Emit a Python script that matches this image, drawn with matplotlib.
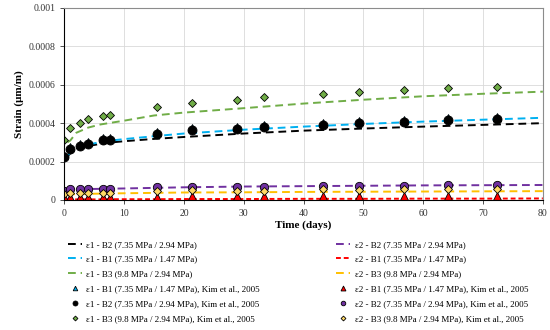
import numpy as np
import matplotlib.pyplot as plt

plt.rcParams['font.family'] = ['Liberation Serif', 'DejaVu Serif']

# model curves
t_line = [0.5, 1, 2, 4, 6, 8, 10, 15, 20, 30, 40, 50, 60, 70, 80]
e1_b2 = [0.000225, 0.000243, 0.000262, 0.000281, 0.000292, 0.0003, 0.000306, 0.000318,
         0.000328, 0.000346, 0.000361, 0.000372, 0.000382, 0.000391, 0.0004]
e1_b1 = [0.000228, 0.000248, 0.000268, 0.000289, 0.000301, 0.00031, 0.000317, 0.000332,
         0.000346, 0.000366, 0.000382, 0.000396, 0.000408, 0.000418, 0.000428]
e1_b3 = [0.00030, 0.00031, 0.00035, 0.000377, 0.000393, 0.000403, 0.000413, 0.00044,
         0.000455, 0.000478, 0.000502, 0.000522, 0.00054, 0.000553, 0.000564]
e2_b2 = [0.000045, 0.000052, 0.000055, 0.000057, 0.000058, 0.000059, 0.00006, 0.000063,
         0.000066, 0.00007, 0.000072, 0.000074, 0.000076, 0.000077, 0.000078]
e2_b1 = [0.000002, 0.000002, 0.000003, 0.000003, 0.000003, 0.000004, 0.000004, 0.000004,
         0.000005, 0.000005, 0.000006, 0.000006, 0.000007, 0.000007, 0.000008]
e2_b3 = [0.000025, 0.000029, 0.000031, 0.000032, 0.000033, 0.000034, 0.000035, 0.000037,
         0.000039, 0.00004, 0.000042, 0.000043, 0.000044, 0.000045, 0.000046]

# measured data, Kim et al. 2005
t_kim = [0, 1, 2.6, 4, 6.4, 7.6, 15.5, 21.4, 28.8, 33.3, 43.3, 49.3, 56.8, 64.2, 72.3]
k1_b2 = [0.000222, 0.000265, 0.000281, 0.000291, 0.000311, 0.000314, 0.000344, 0.000363,
         0.000372, 0.000379, 0.000389, 0.000401, 0.000408, 0.000415, 0.000421]
k1_b1 = [0.000232, 0.000275, 0.000291, 0.000301, 0.000321, 0.000324, 0.000354, 0.000373,
         0.000382, 0.000389, 0.000399, 0.000411, 0.000418, 0.000425, 0.000431]
k1_b3 = [0.000311, 0.000373, 0.0004, 0.000422, 0.000438, 0.000443, 0.000485, 0.000504,
         0.000522, 0.000534, 0.00055, 0.000564, 0.000574, 0.000583, 0.00059]
k2_b2 = [0.000045, 0.000055, 0.000056, 0.000056, 0.000055, 0.000056, 0.000065, 0.00007,
         0.000066, 0.000068, 0.000075, 0.000072, 0.000075, 0.000076, 0.000076]
k2_b1 = [0.000008, 0.000012, 0.000012, 0.000012, 0.00001, 0.000011, 0.00001, 0.000015,
         0.000015, 0.000015, 0.000015, 0.000015, 0.000015, 0.000015, 0.000015]
k2_b3 = [0.00003, 0.000038, 0.000038, 0.000038, 0.000036, 0.000038, 0.000045, 0.00005,
         0.000047, 0.000048, 0.000055, 0.000052, 0.000055, 0.000055, 0.000055]

y_ticks = [0, 0.0002, 0.0004, 0.0006, 0.0008, 0.001]
y_labels = ['0', '0.0002', '0.0004', '0.0006', '0.0008', '0.001']

fig = plt.figure(figsize=(5.5, 3.3), dpi=100)
ax = fig.add_axes([0.117, 0.394, 0.87, 0.582])

lw = 1.4
d = (4, 2.5)
h = {}
h['l1b2'], = ax.plot(t_line, e1_b2, color='black', lw=lw, dashes=d)
h['l1b1'], = ax.plot(t_line, e1_b1, color='#00B0F0', lw=lw, dashes=d)
h['l1b3'], = ax.plot(t_line, e1_b3, color='#70AD47', lw=lw, dashes=d)
h['l2b2'], = ax.plot(t_line, e2_b2, color='#7030A0', lw=lw, dashes=d)
h['l2b1'], = ax.plot(t_line, e2_b1, color='#FF0000', lw=lw, dashes=(2.5, 1.5))
h['l2b3'], = ax.plot(t_line, e2_b3, color='#FFC000', lw=lw, dashes=d)

mk = dict(ls='none', mec='black', mew=0.6)
h['k1b1'], = ax.plot(t_kim, k1_b1, marker='^', ms=6, mfc='#00B0F0', **mk)
h['k1b2'], = ax.plot(t_kim, k1_b2, marker='o', ms=6.5, mfc='black', **mk)
h['k1b3'], = ax.plot(t_kim, k1_b3, marker='D', ms=4.5, mfc='#70AD47', **mk)
h['k2b1'], = ax.plot(t_kim, k2_b1, marker='^', ms=6.5, mfc='#FF0000', **mk)
h['k2b2'], = ax.plot(t_kim, k2_b2, marker='o', ms=6, mfc='#7030A0', **mk)
h['k2b3'], = ax.plot(t_kim, k2_b3, marker='D', ms=4.5, mfc='#FFD966', **mk)

ax.set_xlim(0, 80)
ax.set_ylim(0, 0.001)
ax.set_xticks(range(0, 81, 10))
ax.set_yticks(y_ticks)
ax.set_yticklabels(y_labels)
ax.tick_params(labelsize=7, length=3, width=0.6, colors='#333333')
ax.grid(color='#D9D9D9', lw=0.6)
ax.set_axisbelow(True)
for s in ['top', 'right']:
    ax.spines[s].set_color('#8C8C8C')
for s in ['left', 'bottom']:
    ax.spines[s].set_color('black')
    ax.spines[s].set_linewidth(0.8)

ax.set_xlabel('Time (days)', fontsize=8, fontweight='bold', labelpad=2)
ax.set_ylabel('Strain (μm/m)', fontsize=8, fontweight='bold', labelpad=3)

order = ['l1b2', 'l1b1', 'l1b3', 'k1b1', 'k1b2', 'k1b3',
         'l2b2', 'l2b1', 'l2b3', 'k2b1', 'k2b2', 'k2b3']
labels = ['ε1 - B2 (7.35 MPa / 2.94 MPa)',
          'ε1 - B1 (7.35 MPa / 1.47 MPa)',
          'ε1 - B3 (9.8 MPa / 2.94 MPa)',
          'ε1 - B1 (7.35 MPa / 1.47 MPa), Kim et al., 2005',
          'ε1 - B2 (7.35 MPa / 2.94 MPa), Kim et al., 2005',
          'ε1 - B3 (9.8 MPa / 2.94 MPa), Kim et al., 2005',
          'ε2 - B2 (7.35 MPa / 2.94 MPa)',
          'ε2 - B1 (7.35 MPa / 1.47 MPa)',
          'ε2 - B3 (9.8 MPa / 2.94 MPa)',
          'ε2 - B1 (7.35 MPa / 1.47 MPa), Kim et al., 2005',
          'ε2 - B2 (7.35 MPa / 2.94 MPa), Kim et al., 2005',
          'ε2 - B3 (9.8 MPa / 2.94 MPa), Kim et al., 2005']
fig.legend([h[k] for k in order], labels, ncol=2, loc='upper left',
           bbox_to_anchor=(0.108, 0.296), frameon=False, fontsize=6.5,
           handlelength=1.6, handletextpad=0.5, columnspacing=8.4,
           labelspacing=0.72, markerscale=0.55)

fig.savefig('out.png', dpi=100)
